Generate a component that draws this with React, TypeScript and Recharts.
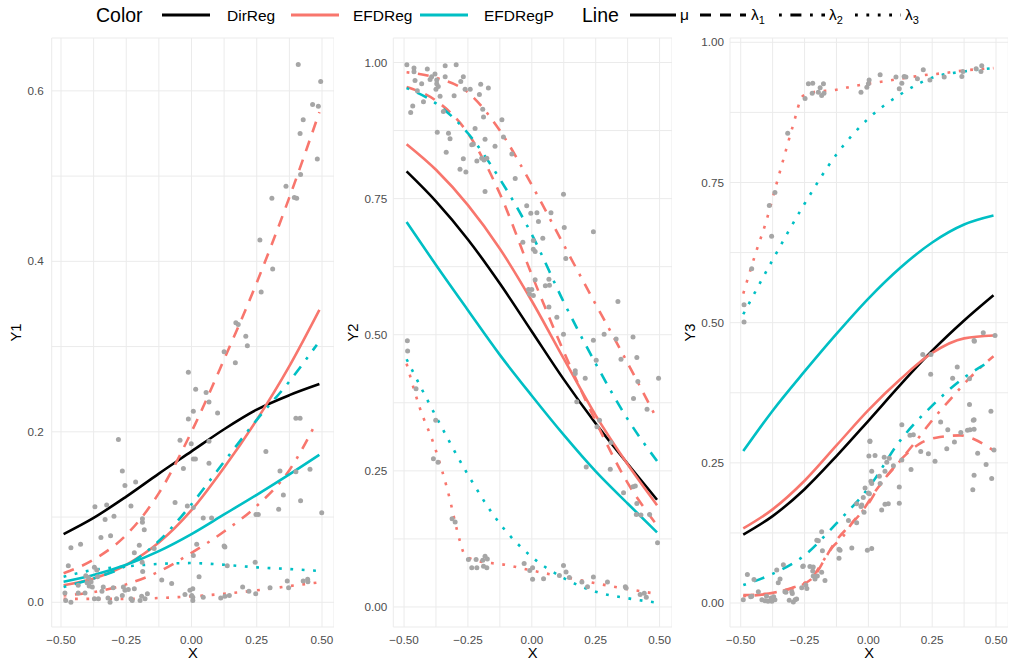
import React from "react";
import { ComposedChart, Line, Scatter, XAxis, YAxis, CartesianGrid } from "recharts";

type Pt = [number, number];

// colours used by ggplot's default hue scale
const RED = "#F8766D";
const CYAN = "#00BFC4";
const BLACK = "#000000";
const POINT = "#A6A6A6";
const FONT = "'Liberation Sans', Arial, Helvetica, sans-serif";

// linetypes: mu solid, lambda1 dashed, lambda2 dotdash, lambda3 dotted
const DASH: Record<string, string | undefined> = {
    mu: undefined,
    l1: "11 9",
    l2: "2.8 8.6 11 8.6",
    l3: "2.8 8.6",
};

// ---------- ticks ----------
const xTicks = [-0.5, -0.375, -0.25, -0.125, 0, 0.125, 0.25, 0.375, 0.5];
const xTickLabels: [number, string][] = [[-0.5, "\u22120.50"], [-0.25, "\u22120.25"], [0, "0.00"], [0.25, "0.25"], [0.5, "0.50"]];
const y1Ticks = [0, 0.1, 0.2, 0.3, 0.4, 0.5, 0.6];
const y1TickLabels: [number, string][] = [[0, "0.0"], [0.2, "0.2"], [0.4, "0.4"], [0.6, "0.6"]];
const y23Ticks = [0, 0.125, 0.25, 0.375, 0.5, 0.625, 0.75, 0.875, 1];
const y23TickLabels: [number, string][] = [[0, "0.00"], [0.25, "0.25"], [0.5, "0.50"], [0.75, "0.75"], [1, "1.00"]];

// ---------- panel 1 : Y1 ----------
const y1Points: Pt[] = [
    [0.409, 0.631], [0.495, 0.611], [0.464, 0.584], [0.486, 0.582], [0.428, 0.566], [0.416, 0.55], [0.482, 0.52], [0.418, 0.502],
    [0.362, 0.488], [0.394, 0.475], [0.403, 0.474], [0.308, 0.474], [0.262, 0.425], [0.311, 0.391], [0.267, 0.364], [0.17, 0.328],
    [0.179, 0.326], [0.208, 0.312], [0.214, 0.301], [0.125, 0.294], [0.168, 0.281], [-0.012, 0.27], [0.016, 0.25], [0.056, 0.246],
    [0.067, 0.235], [0.007, 0.224], [-0.012, 0.215], [0.1, 0.222], [0.4, 0.216], [0.416, 0.216], [-0.28, 0.191], [-0.044, 0.19],
    [-0.001, 0.186], [0.067, 0.189], [0.007, 0.168], [0.015, 0.168], [-0.031, 0.157], [0.067, 0.163], [0.285, 0.177], [0.339, 0.154],
    [0.4, 0.153], [0.454, 0.156], [0.352, 0.126], [0.418, 0.119], [0.334, 0.109], [0.499, 0.105], [0.247, 0.103], [0.256, 0.103],
    [-0.063, 0.117], [-0.016, 0.113], [0.007, 0.111], [0.045, 0.099], [0.077, 0.099], [0.02, 0.068], [0.125, 0.066], [0.128, 0.065],
    [0.007, 0.055], [0.244, 0.047], [0.137, 0.043], [0.029, 0.03], [-0.076, 0.022], [-0.006, 0.014], [0.005, 0.016], [0.196, 0.018],
    [0.22, 0.013], [0.246, 0.01], [0.301, 0.017], [0.367, 0.025], [0.372, 0.017], [0.428, 0.025], [0.445, 0.027], [0.446, 0.024],
    [-0.025, 0.009], [0.005, 0.006], [0.005, 0.002], [0.045, 0.006], [0.112, 0.005], [0.128, 0.007], [0.145, 0.008], [0.001, 0.008],
    [-0.265, 0.154], [-0.255, 0.137], [-0.214, 0.141], [-0.37, 0.112], [-0.325, 0.114], [-0.232, 0.113], [-0.331, 0.097], [-0.297, 0.101],
    [-0.188, 0.098], [-0.188, 0.094], [-0.181, 0.085], [-0.462, 0.064], [-0.425, 0.068], [-0.347, 0.076], [-0.31, 0.078], [-0.219, 0.058],
    [-0.2, 0.067], [-0.143, 0.063], [-0.189, 0.047], [-0.187, 0.036], [-0.472, 0.043], [-0.372, 0.041], [-0.363, 0.038], [-0.395, 0.029],
    [-0.385, 0.024], [-0.392, 0.019], [-0.405, 0.031], [-0.434, 0.02], [-0.338, 0.018], [-0.261, 0.018], [-0.255, 0.014], [-0.242, 0.015],
    [-0.219, 0.016], [-0.114, 0.026], [-0.485, 0.011], [-0.482, 0.002], [-0.462, 0.0], [-0.434, 0.011], [-0.408, 0.011], [-0.372, 0.004],
    [-0.357, 0.004], [-0.312, 0.0], [-0.287, 0.004], [-0.265, 0.008], [-0.232, 0.004], [-0.227, 0.002], [-0.197, 0.002], [-0.191, 0.007],
    [-0.178, 0.004], [-0.169, 0.01], [-0.4, 0.023], [-0.38, 0.018], [-0.36, 0.03], [-0.343, 0.013], [-0.32, 0.005], [-0.3, 0.017],
];
const y1DirRegMu: Pt[] = [[-0.49, 0.08], [-0.375, 0.099], [-0.25, 0.124], [-0.125, 0.151], [0, 0.177], [0.125, 0.203], [0.25, 0.226], [0.375, 0.243], [0.49, 0.256]];
const y1EfdMu: Pt[] = [[-0.49, 0.02], [-0.375, 0.028], [-0.25, 0.044], [-0.125, 0.07], [0, 0.108], [0.125, 0.158], [0.25, 0.214], [0.375, 0.277], [0.49, 0.343]];
const y1EfdL1: Pt[] = [[-0.49, 0.034], [-0.375, 0.05], [-0.25, 0.079], [-0.125, 0.128], [0, 0.2], [0.125, 0.285], [0.25, 0.375], [0.375, 0.475], [0.49, 0.575]];
const y1EfdL2: Pt[] = [[-0.49, 0.008], [-0.375, 0.012], [-0.25, 0.021], [-0.125, 0.036], [0, 0.058], [0.125, 0.083], [0.25, 0.113], [0.375, 0.155], [0.48, 0.212]];
const y1EfdL3: Pt[] = [[-0.49, 0.004], [-0.375, 0.004], [-0.25, 0.004], [-0.125, 0.005], [0, 0.007], [0.125, 0.01], [0.25, 0.014], [0.375, 0.019], [0.48, 0.023]];
const y1EfdPMu: Pt[] = [[-0.49, 0.024], [-0.375, 0.032], [-0.25, 0.044], [-0.125, 0.06], [0, 0.08], [0.125, 0.103], [0.25, 0.126], [0.375, 0.15], [0.49, 0.173]];
const y1EfdPL2: Pt[] = [[-0.49, 0.018], [-0.375, 0.028], [-0.25, 0.043], [-0.125, 0.072], [0, 0.115], [0.125, 0.165], [0.25, 0.214], [0.375, 0.259], [0.48, 0.302]];
const y1EfdPL3: Pt[] = [[-0.49, 0.03], [-0.375, 0.038], [-0.25, 0.042], [-0.125, 0.045], [0, 0.046], [0.125, 0.044], [0.25, 0.041], [0.375, 0.039], [0.48, 0.037]];

// ---------- panel 2 : Y2 ----------
const y2Points: Pt[] = [
    [-0.489, 0.996], [-0.461, 0.99], [-0.461, 0.983], [-0.409, 0.988], [-0.379, 0.979], [-0.398, 0.969], [-0.392, 0.974], [-0.339, 0.994],
    [-0.296, 0.996], [-0.339, 0.974], [-0.268, 0.974], [-0.457, 0.967], [-0.431, 0.961], [-0.372, 0.968], [-0.372, 0.961], [-0.366, 0.956],
    [-0.375, 0.951], [-0.278, 0.965], [-0.261, 0.951], [-0.241, 0.951], [-0.2, 0.96], [-0.17, 0.953], [-0.205, 0.941], [-0.304, 0.939],
    [-0.448, 0.948], [-0.359, 0.938], [-0.424, 0.928], [-0.466, 0.92], [-0.474, 0.908], [-0.346, 0.91], [-0.192, 0.914], [-0.189, 0.9],
    [-0.117, 0.895], [-0.37, 0.872], [-0.326, 0.87], [-0.32, 0.86], [-0.335, 0.835], [-0.222, 0.879], [-0.235, 0.849], [-0.229, 0.85],
    [-0.183, 0.859], [-0.144, 0.846], [-0.111, 0.863], [-0.215, 0.819], [-0.196, 0.824], [-0.187, 0.821], [-0.176, 0.824], [-0.268, 0.823],
    [-0.281, 0.804], [-0.258, 0.799], [-0.183, 0.763], [-0.078, 0.832], [-0.065, 0.787], [0.124, 0.758], [-0.02, 0.737], [-0.004, 0.723],
    [0.02, 0.724], [0.075, 0.724], [0.026, 0.708], [0.127, 0.697], [0.241, 0.689], [-0.035, 0.67], [0.006, 0.673], [0.043, 0.677],
    [0.006, 0.657], [0.013, 0.653], [0.133, 0.64], [0.013, 0.601], [0.067, 0.602], [-0.013, 0.583], [0.0, 0.583], [-0.009, 0.575],
    [0.006, 0.572], [0.053, 0.59], [0.069, 0.591], [0.067, 0.551], [0.098, 0.532], [0.124, 0.501], [0.337, 0.561], [0.241, 0.49],
    [0.283, 0.501], [0.33, 0.492], [0.396, 0.496],
    [-0.487, 0.489], [-0.486, 0.47], [-0.453, 0.401], [-0.376, 0.343], [-0.385, 0.272], [-0.367, 0.266], [-0.312, 0.162], [-0.3, 0.156],
    [-0.248, 0.087], [-0.235, 0.072], [-0.218, 0.087], [-0.215, 0.072], [-0.192, 0.086], [-0.183, 0.093], [-0.174, 0.088], [-0.189, 0.075],
    [-0.176, 0.072], [-0.03, 0.08], [0.003, 0.072], [-0.008, 0.067], [0.003, 0.051], [0.046, 0.052], [0.108, 0.058], [0.124, 0.076],
    [0.134, 0.064], [0.147, 0.054], [0.196, 0.046], [0.218, 0.037], [0.241, 0.055], [0.296, 0.046], [0.366, 0.037], [0.369, 0.035],
    [0.424, 0.023], [0.44, 0.025], [0.448, 0.018], [0.492, 0.118], [0.496, 0.42], [0.17, 0.434], [0.17, 0.429], [0.209, 0.42],
    [0.176, 0.377], [0.252, 0.453], [0.265, 0.343], [0.255, 0.331], [0.31, 0.302], [0.307, 0.253], [0.213, 0.257], [0.349, 0.455],
    [0.411, 0.458], [0.415, 0.414], [0.398, 0.383], [0.451, 0.363], [0.359, 0.21], [0.396, 0.221], [0.405, 0.222], [0.411, 0.19],
    [0.409, 0.17], [0.427, 0.169], [0.461, 0.17],
];
const y2DirRegMu: Pt[] = [[-0.49, 0.8], [-0.375, 0.745], [-0.25, 0.675], [-0.125, 0.594], [0, 0.506], [0.125, 0.418], [0.25, 0.337], [0.375, 0.263], [0.49, 0.197]];
const y2EfdMu: Pt[] = [[-0.49, 0.85], [-0.375, 0.803], [-0.25, 0.738], [-0.125, 0.658], [0, 0.562], [0.125, 0.456], [0.25, 0.352], [0.375, 0.262], [0.49, 0.187]];
const y2EfdL1: Pt[] = [[-0.49, 0.955], [-0.375, 0.93], [-0.25, 0.87], [-0.125, 0.759], [0, 0.61], [0.125, 0.469], [0.25, 0.341], [0.375, 0.228], [0.49, 0.15]];
const y2EfdL2: Pt[] = [[-0.49, 0.982], [-0.375, 0.972], [-0.25, 0.945], [-0.125, 0.875], [0, 0.775], [0.125, 0.665], [0.25, 0.556], [0.375, 0.448], [0.49, 0.345]];
const y2EfdL3: Pt[] = [[-0.49, 0.447], [-0.44, 0.368], [-0.38, 0.294], [-0.33, 0.215], [-0.28, 0.119], [-0.265, 0.098], [-0.23, 0.087], [-0.1, 0.077], [0.03, 0.064], [0.16, 0.052], [0.29, 0.04], [0.49, 0.024]];
const y2EfdPMu: Pt[] = [[-0.49, 0.707], [-0.375, 0.628], [-0.25, 0.545], [-0.125, 0.463], [0, 0.388], [0.125, 0.316], [0.25, 0.249], [0.375, 0.19], [0.49, 0.137]];
const y2EfdPL2: Pt[] = [[-0.49, 0.953], [-0.375, 0.925], [-0.25, 0.87], [-0.125, 0.786], [0, 0.684], [0.125, 0.56], [0.25, 0.447], [0.375, 0.345], [0.49, 0.268]];
const y2EfdPL3: Pt[] = [[-0.49, 0.455], [-0.375, 0.35], [-0.25, 0.243], [-0.125, 0.153], [0, 0.092], [0.125, 0.053], [0.25, 0.028], [0.375, 0.016], [0.49, 0.008]];

// ---------- panel 3 : Y3 ----------
const y3Points: Pt[] = [
    [-0.487, 0.501], [-0.487, 0.532], [-0.457, 0.596], [-0.379, 0.654], [-0.388, 0.709], [-0.366, 0.732], [-0.316, 0.838], [-0.248, 0.9],
    [-0.235, 0.926], [-0.218, 0.927], [-0.22, 0.909], [-0.196, 0.911], [-0.189, 0.919], [-0.183, 0.905], [-0.174, 0.909], [-0.176, 0.926],
    [-0.029, 0.911], [-0.006, 0.92], [0.0, 0.926], [0.003, 0.933], [0.046, 0.942], [0.108, 0.938], [0.121, 0.917], [0.131, 0.927],
    [0.14, 0.939], [0.147, 0.938], [0.192, 0.935], [0.215, 0.951], [0.241, 0.933], [0.297, 0.938], [0.366, 0.939], [0.37, 0.948],
    [0.422, 0.953], [0.444, 0.958], [0.441, 0.948], [0.414, 0.468], [0.45, 0.482], [0.496, 0.477],
    [-0.49, 0.006], [-0.474, 0.051], [-0.461, 0.011], [-0.457, 0.012], [-0.448, 0.042], [-0.431, 0.02], [-0.417, 0.006], [-0.405, 0.004],
    [-0.393, 0.003], [-0.378, 0.003], [-0.366, 0.006], [-0.381, 0.009], [-0.371, 0.011], [-0.399, 0.012], [-0.353, 0.036], [-0.359, 0.059],
    [-0.346, 0.043], [-0.333, 0.068], [-0.323, 0.019], [-0.3, 0.02], [-0.294, 0.002], [-0.281, 0.007], [-0.31, 0.005], [-0.257, 0.065],
    [-0.241, 0.026], [-0.229, 0.065], [-0.218, 0.057], [-0.216, 0.048], [-0.209, 0.043], [-0.2, 0.048], [-0.196, 0.111], [-0.183, 0.127],
    [-0.18, 0.093], [-0.183, 0.055], [-0.17, 0.04], [-0.111, 0.094], [-0.115, 0.08], [-0.065, 0.098], [-0.078, 0.147], [-0.046, 0.143],
    [-0.026, 0.175], [-0.017, 0.162], [-0.004, 0.094], [0.013, 0.097], [-0.013, 0.205], [0.004, 0.195], [0.013, 0.235], [0.002, 0.262],
    [0.026, 0.263], [0.006, 0.289], [0.043, 0.226], [0.052, 0.166], [0.065, 0.176], [0.078, 0.177], [0.062, 0.26], [0.072, 0.251],
    [0.082, 0.258], [0.098, 0.245], [0.121, 0.178], [0.121, 0.207], [0.131, 0.318], [0.163, 0.299], [0.176, 0.3], [0.167, 0.238],
    [0.205, 0.27], [0.235, 0.266], [0.213, 0.443], [0.244, 0.408], [0.261, 0.253], [0.283, 0.323], [0.307, 0.275], [0.311, 0.309],
    [0.33, 0.401], [0.337, 0.287], [0.348, 0.421], [0.362, 0.304], [0.396, 0.354], [0.388, 0.308], [0.398, 0.309], [0.414, 0.31],
    [0.411, 0.326], [0.409, 0.202], [0.414, 0.228], [0.428, 0.267], [0.415, 0.467], [0.461, 0.247], [0.483, 0.222], [0.48, 0.342],
    [0.492, 0.273], [0.245, 0.443], [0.396, 0.4], [0.414, 0.327], [0.006, 0.288], [0.131, 0.255], [0.065, 0.235], [0.01, 0.217],
    [0.046, 0.213], [-0.202, 0.112], [-0.115, 0.096], [-0.255, 0.066], [-0.216, 0.064], [-0.298, 0.017], [-0.287, 0.006], [-0.327, 0.02],
    [-0.261, 0.027], [-0.245, 0.032], [-0.046, 0.177], [-0.029, 0.172], [-0.02, 0.188], [0.0, 0.196], [0.013, 0.213],
];
const y3DirRegMu: Pt[] = [[-0.49, 0.122], [-0.375, 0.155], [-0.25, 0.203], [-0.125, 0.262], [0, 0.325], [0.125, 0.389], [0.25, 0.45], [0.375, 0.504], [0.49, 0.549]];
const y3EfdMu: Pt[] = [[-0.49, 0.133], [-0.375, 0.167], [-0.25, 0.218], [-0.125, 0.281], [0, 0.344], [0.125, 0.399], [0.25, 0.446], [0.375, 0.472], [0.49, 0.477]];
const y3EfdL1: Pt[] = [[-0.49, 0.014], [-0.39, 0.017], [-0.325, 0.023], [-0.26, 0.032], [-0.21, 0.049], [-0.17, 0.079], [-0.13, 0.109], [-0.08, 0.135], [-0.03, 0.16], [0.03, 0.201], [0.1, 0.242], [0.15, 0.266], [0.2, 0.284], [0.28, 0.296], [0.36, 0.299], [0.41, 0.293], [0.49, 0.272]];
const y3EfdL2: Pt[] = [[-0.49, 0.012], [-0.375, 0.018], [-0.3, 0.027], [-0.25, 0.036], [-0.22, 0.046], [-0.18, 0.073], [-0.14, 0.1], [-0.1, 0.118], [-0.065, 0.142], [0, 0.177], [0.04, 0.207], [0.125, 0.254], [0.18, 0.285], [0.25, 0.326], [0.33, 0.368], [0.4, 0.403], [0.49, 0.44]];
const y3EfdL3: Pt[] = [[-0.49, 0.552], [-0.44, 0.626], [-0.4, 0.681], [-0.365, 0.739], [-0.33, 0.796], [-0.295, 0.852], [-0.257, 0.904], [-0.216, 0.911], [-0.13, 0.915], [-0.045, 0.923], [0.04, 0.929], [0.125, 0.935], [0.21, 0.941], [0.295, 0.945], [0.38, 0.95], [0.49, 0.954]];
const y3EfdPMu: Pt[] = [[-0.49, 0.271], [-0.375, 0.343], [-0.25, 0.413], [-0.125, 0.48], [0, 0.543], [0.125, 0.598], [0.25, 0.643], [0.375, 0.675], [0.49, 0.691]];
const y3EfdPL2: Pt[] = [[-0.49, 0.032], [-0.375, 0.052], [-0.25, 0.085], [-0.125, 0.142], [0, 0.205], [0.125, 0.29], [0.25, 0.352], [0.375, 0.402], [0.465, 0.428]];
const y3EfdPL3: Pt[] = [[-0.49, 0.515], [-0.375, 0.612], [-0.25, 0.712], [-0.125, 0.8], [0, 0.864], [0.125, 0.907], [0.25, 0.937], [0.375, 0.948], [0.49, 0.954]];

const rows = (pts: Pt[]) => pts.map(([x, y]) => ({ x, y }));

interface SeriesDef { data: Pt[]; color: string; type: string; }
interface PanelDef {
    name: string;
    left: number;
    width: number;
    yWidth: number;
    tickGap: number;
    titleX: number;
    xDomain: [number, number];
    yDomain: [number, number];
    yTicks: number[];
    yLabels: [number, string][];
    points: Pt[];
    series: SeriesDef[];
}

const panels: PanelDef[] = [
    {
        name: "Y1", left: 0, width: 334, yWidth: 51.7, tickGap: 2, titleX: 21,
        xDomain: [-0.5356, 0.546], yDomain: [-0.029, 0.662], yTicks: y1Ticks, yLabels: y1TickLabels, points: y1Points,
        series: [
            { data: y1DirRegMu, color: BLACK, type: "mu" },
            { data: y1EfdMu, color: RED, type: "mu" },
            { data: y1EfdL1, color: RED, type: "l1" },
            { data: y1EfdL2, color: RED, type: "l2" },
            { data: y1EfdL3, color: RED, type: "l3" },
            { data: y1EfdPMu, color: CYAN, type: "mu" },
            { data: y1EfdPL2, color: CYAN, type: "l2" },
            { data: y1EfdPL3, color: CYAN, type: "l3" },
        ],
    },
    {
        name: "Y2", left: 340, width: 332, yWidth: 53.3, tickGap: 0, titleX: 357.5,
        xDomain: [-0.542, 0.5486], yDomain: [-0.0368, 1.045], yTicks: y23Ticks, yLabels: y23TickLabels, points: y2Points,
        series: [
            { data: y2DirRegMu, color: BLACK, type: "mu" },
            { data: y2EfdMu, color: RED, type: "mu" },
            { data: y2EfdL1, color: RED, type: "l1" },
            { data: y2EfdL2, color: RED, type: "l2" },
            { data: y2EfdL3, color: RED, type: "l3" },
            { data: y2EfdPMu, color: CYAN, type: "mu" },
            { data: y2EfdPL2, color: CYAN, type: "l2" },
            { data: y2EfdPL3, color: CYAN, type: "l3" },
        ],
    },
    {
        name: "Y3", left: 680, width: 328.3, yWidth: 50, tickGap: 0, titleX: 694.5,
        xDomain: [-0.542, 0.548], yDomain: [-0.0428, 1.0077], yTicks: y23Ticks, yLabels: y23TickLabels, points: y3Points,
        series: [
            { data: y3DirRegMu, color: BLACK, type: "mu" },
            { data: y3EfdMu, color: RED, type: "mu" },
            { data: y3EfdL1, color: RED, type: "l1" },
            { data: y3EfdL2, color: RED, type: "l2" },
            { data: y3EfdL3, color: RED, type: "l3" },
            { data: y3EfdPMu, color: CYAN, type: "mu" },
            { data: y3EfdPL2, color: CYAN, type: "l2" },
            { data: y3EfdPL3, color: CYAN, type: "l3" },
        ],
    },
];

const PLOT_TOP = 38;
const PLOT_BOTTOM = 627;
const CHART_H = 664;
const X_AXIS_H = 30;

// draws labels only on major breaks; minor breaks still get grid lines
function tickRenderer(labels: [number, string][], side: "x" | "y") {
    return (props: any) => {
        const { x, y, payload } = props;
        const hit = labels.find(([v]) => Math.abs(v - payload.value) < 1e-9);
        if (!hit) return <g />;
        return (
            <text
                x={x}
                y={y}
                dy={side === "x" ? "0.71em" : "0.355em"}
                textAnchor={side === "x" ? "middle" : "end"}
                fill="#4D4D4D"
                fontSize={11.7}
                fontFamily={FONT}
            >
                {hit[1]}
            </text>
        );
    };
}

function Dot(props: any) {
    return <circle cx={props.cx} cy={props.cy} r={2.5} fill={POINT} />;
}

function Panel({ p }: { p: PanelDef }) {
    return (
        <div style={{ position: "absolute", left: p.left, top: 0 }}>
            <ComposedChart
                width={p.width}
                height={CHART_H}
                margin={{ top: PLOT_TOP, right: 0, bottom: CHART_H - PLOT_BOTTOM - X_AXIS_H, left: 0 }}
            >
                <CartesianGrid stroke="#EBEBEB" strokeWidth={1} />
                <XAxis
                    type="number"
                    dataKey="x"
                    domain={p.xDomain}
                    allowDataOverflow
                    ticks={xTicks}
                    interval={0}
                    height={X_AXIS_H}
                    axisLine={false}
                    tickLine={false}
                    tickMargin={3}
                    tick={tickRenderer(xTickLabels, "x")}
                />
                <YAxis
                    type="number"
                    dataKey="y"
                    domain={p.yDomain}
                    allowDataOverflow
                    ticks={p.yTicks}
                    interval={0}
                    width={p.yWidth}
                    axisLine={false}
                    tickLine={false}
                    tickMargin={p.tickGap}
                    tick={tickRenderer(p.yLabels, "y")}
                />
                <Scatter data={rows(p.points)} shape={Dot} isAnimationActive={false} />
                {p.series.map((s, i) => (
                    <Line
                        key={i}
                        data={rows(s.data)}
                        dataKey="y"
                        type="monotone"
                        stroke={s.color}
                        strokeWidth={2.6}
                        strokeDasharray={DASH[s.type]}
                        dot={false}
                        activeDot={false}
                        isAnimationActive={false}
                    />
                ))}
            </ComposedChart>
        </div>
    );
}

// legend entries (ggplot guides drawn above the panels)
const colorLegend: { label: string; color: string; x: number; tx: number }[] = [
    { label: "DirReg", color: BLACK, x: 162, tx: 227 },
    { label: "EFDReg", color: RED, x: 291, tx: 353 },
    { label: "EFDRegP", color: CYAN, x: 420, tx: 484 },
];
const lineLegend: { sub: string; type: string; x: number; tx: number }[] = [
    { sub: "", type: "mu", x: 630, tx: 680 },
    { sub: "1", type: "l1", x: 700, tx: 751 },
    { sub: "2", type: "l2", x: 779, tx: 829 },
    { sub: "3", type: "l3", x: 855, tx: 905 },
];

function Overlay() {
    const keyY = 15;
    return (
        <svg width={1009} height={664} style={{ position: "absolute", left: 0, top: 0, pointerEvents: "none" }}>
            <text x={96} y={22} fontSize={19.5} fontFamily={FONT} fill="#000">Color</text>
            {colorLegend.map((c) => (
                <g key={c.label}>
                    <line x1={c.x} x2={c.x + 48} y1={keyY} y2={keyY} stroke={c.color} strokeWidth={3} />
                    <text x={c.tx} y={21} fontSize={15.5} fontFamily={FONT} fill="#000">{c.label}</text>
                </g>
            ))}
            <text x={582} y={22} fontSize={19.5} fontFamily={FONT} fill="#000">Line</text>
            {lineLegend.map((l) => (
                <g key={l.type}>
                    <line x1={l.x} x2={l.x + 46} y1={keyY} y2={keyY} stroke="#000" strokeWidth={3} strokeDasharray={DASH[l.type]} />
                    <text x={l.tx} y={20} fontSize={15.5} fontFamily={FONT} fill="#000">
                        {l.type === "mu" ? "\u03bc" : "\u03bb"}
                        {l.sub && <tspan fontSize={11} dy={4}>{l.sub}</tspan>}
                    </text>
                </g>
            ))}
            {panels.map((p) => {
                const plotLeft = p.left + p.yWidth;
                const plotRight = p.left + p.width;
                const cy = (PLOT_TOP + PLOT_BOTTOM) / 2;
                return (
                    <g key={p.name}>
                        <text x={(plotLeft + plotRight) / 2} y={658} textAnchor="middle" fontSize={14.7} fontFamily={FONT} fill="#000">X</text>
                        <text transform={`translate(${p.titleX},${cy}) rotate(-90)`} textAnchor="middle" fontSize={14.7} fontFamily={FONT} fill="#000">
                            {p.name}
                        </text>
                    </g>
                );
            })}
        </svg>
    );
}

export default function App() {
    return (
        <div style={{ position: "absolute", left: 0, top: 0, width: 1009, height: 664, background: "#fff", overflow: "hidden" }}>
            {panels.map((p) => (
                <Panel key={p.name} p={p} />
            ))}
            <Overlay />
        </div>
    );
}
